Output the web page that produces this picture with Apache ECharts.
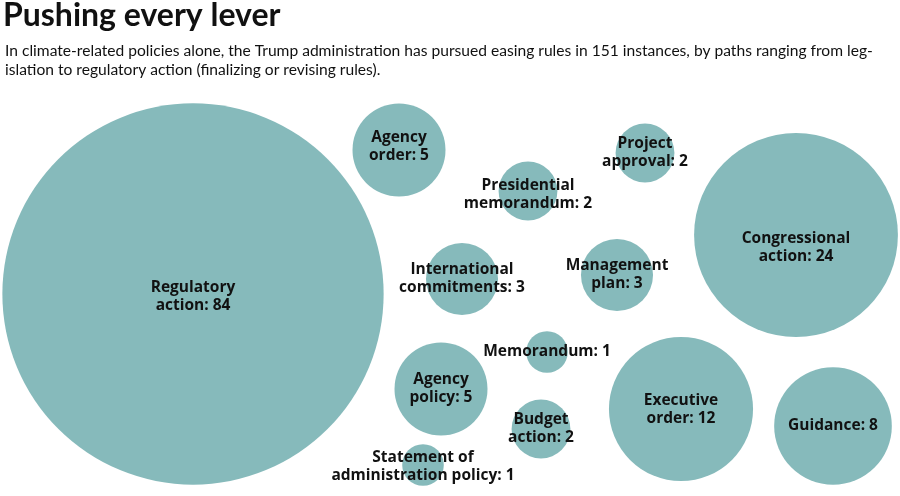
<!DOCTYPE html>
<html>
<head>
<meta charset="utf-8">
<script src="https://cdn.jsdelivr.net/npm/echarts@6/dist/echarts.min.js"></script>
<style>
html,body{margin:0;padding:0;background:#fff;}
#chart{width:900px;height:496px;}
</style>
</head>
<body>
<div id="chart"></div>
<script>
// Data
const categories = [
  "Regulatory action", "Agency order", "Presidential memorandum", "Project approval",
  "Congressional action", "International commitments", "Management plan", "Memorandum",
  "Agency policy", "Budget action", "Executive order", "Guidance",
  "Statement of administration policy"
];
const labelLines = [
  "Regulatory\naction", "Agency\norder", "Presidential\nmemorandum", "Project\napproval",
  "Congressional\naction", "International\ncommitments", "Management\nplan", "Memorandum",
  "Agency\npolicy", "Budget\naction", "Executive\norder", "Guidance",
  "Statement of\nadministration policy"
];
const values = [84, 5, 2, 2, 24, 3, 3, 1, 5, 2, 12, 8, 1];

// Packed layout (centre of each bubble, layout units = pixels of the 900x496 canvas)
const layoutX = [193, 399, 528, 645, 796, 462, 617, 547, 441, 541, 681, 833, 423];
const layoutY = [294, 150, 191, 153, 235, 279, 275, 352, 389, 429, 409, 426, 465];
const labelDy = [3, -3, 4, 0, 13, 0, 0, 0, 0, 0, 1, 0, 2];

const radiusPerSqrt = 20.8;
const bubbleColor = "#86babb";

const chart = echarts.init(document.getElementById('chart'));

const seriesData = categories.map((c, i) => ({
  name: c,
  value: [layoutX[i], layoutY[i], values[i]],
  label: { offset: [0, labelDy[i]] }
}));

chart.setOption({
  animation: false,
  backgroundColor: '#ffffff',
  graphic: [
    {
      type: 'text', left: 3, top: 0,
      style: { text: 'Pushing every lever', font: '700 32px Lato', fill: '#111' }
    },
    {
      type: 'text', left: 5, top: 41,
      style: {
        text: 'In climate-related policies alone, the Trump administration has pursued easing rules in 151 instances, by paths ranging from leg-\nislation to regulatory action (finalizing or revising rules).',
        font: '15.6px Lato', fill: '#111', lineHeight: 19
      }
    }
  ],
  grid: { left: 0, right: 0, top: 0, bottom: 0 },
  xAxis: { type: 'value', min: 0, max: 900, show: false },
  yAxis: { type: 'value', min: 0, max: 496, inverse: true, show: false },
  series: [{
    type: 'scatter',
    data: seriesData,
    symbol: 'circle',
    symbolSize: (v) => 2 * radiusPerSqrt * Math.sqrt(v[2]),
    itemStyle: { color: bubbleColor, opacity: 1 },
    label: {
      show: true,
      position: 'inside',
      formatter: (p) => labelLines[p.dataIndex] + ': ' + p.value[2],
      fontFamily: 'Open Sans',
      fontWeight: 700,
      fontSize: 15.5,
      lineHeight: 18,
      color: '#111',
      align: 'center'
    },
    emphasis: { disabled: true }
  }]
});
</script>
</body>
</html>
